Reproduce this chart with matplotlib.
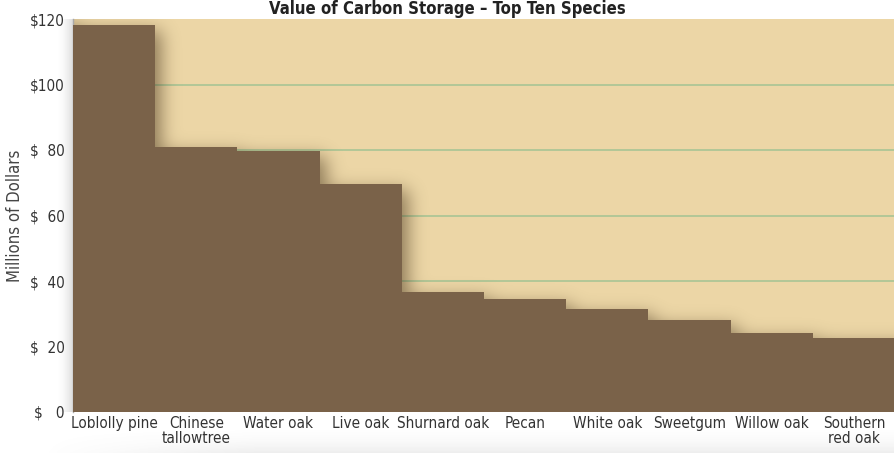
import numpy as np
import matplotlib
matplotlib.use("Agg")
import matplotlib.pyplot as plt

species = ["Loblolly pine", "Chinese\ntallowtree", "Water oak", "Live oak", "Shurnard oak",
           "Pecan", "White oak", "Sweetgum", "Willow oak", "Southern\nred oak"]
values = [118.2, 80.9, 79.7, 69.6, 36.6, 34.5, 31.5, 28.1, 24.1, 22.6]
yticks = [0, 20, 40, 60, 80, 100, 120]
ytick_labels = ["$   0", "$  20", "$  40", "$  60", "$  80", "$100", "$120"]

plt.rcParams['font.family'] = ['DejaVu Sans']
plt.rcParams['font.stretch'] = 'condensed'

BG = "#ecd6a6"
BAR = "#7a6249"
GRID = "#a8c594"


def blur(img, sigma):
    r = int(3 * sigma)
    k = np.exp(-0.5 * (np.arange(-r, r + 1) / sigma) ** 2)
    k /= k.sum()
    pad = np.pad(img, r, mode="edge")
    tmp = np.apply_along_axis(lambda m: np.convolve(m, k, mode="valid"), 1, pad)
    return np.apply_along_axis(lambda m: np.convolve(m, k, mode="valid"), 0, tmp)


fig = plt.figure(figsize=(8.95, 4.53), dpi=100)
ax = fig.add_axes([73 / 895, 1 - 412 / 453, 1 - 73 / 895, 393 / 453])
ax.set_facecolor(BG)

x = np.arange(len(species))

for v in yticks[1:-1]:
    ax.axhline(v, color=GRID, lw=1.2, zorder=1)

# blurred drop shadow of the bar silhouette
nx, ny = 822, 393
xs = (np.arange(nx) + 0.5) / nx * len(species)
ys = (np.arange(ny) + 0.5) / ny * 120
h = np.array(values)[np.minimum(xs.astype(int), len(species) - 1)]
mask = (ys[:, None] < h[None, :]).astype(float)
dx, dy = 6, 6
mask = np.roll(mask, dx, axis=1)
mask[:, :dx] = 1
mask = np.roll(mask, -dy, axis=0)
mask[-dy:, :] = 0
sh = blur(mask, 9)
rgba = np.zeros((ny, nx, 4))
rgba[..., :3] = np.array([0.25, 0.18, 0.09])
rgba[..., 3] = sh * 0.55
ax.imshow(rgba, extent=[0, len(species), 0, 120], origin="lower", aspect="auto",
          zorder=2, interpolation="bilinear")

ax.bar(x, values, width=1.0, align="edge", color=BAR, lw=0, zorder=3)

ax.set_xlim(0, len(species))
ax.set_ylim(0, 120)
ax.set_yticks(yticks)
ax.set_yticklabels(ytick_labels, fontsize=11, color="#333333")
ax.set_xticks(x + 0.5)
ax.set_xticklabels(species, fontsize=11, color="#333333", linespacing=0.95)
ax.tick_params(length=0, pad=3)
ax.tick_params(axis="y", pad=6)
for s in ["top", "right", "bottom"]:
    ax.spines[s].set_visible(False)
ax.spines["left"].set_color("#aaaaaa")
ax.spines["left"].set_linewidth(1)

ax.set_ylabel("Millions of Dollars", fontsize=12, color="#444444", labelpad=4)

# soft shadow left of the plot area
lax = fig.add_axes([56 / 895, 1 - 412 / 453, 17 / 895, 393 / 453], zorder=-1)
g = np.linspace(0, 1, 50) ** 2
lrgba = np.zeros((1, 50, 4))
lrgba[..., :3] = 0.45
lrgba[..., 3] = g * 0.25
lax.imshow(lrgba, aspect="auto", extent=[0, 1, 0, 1])
lax.axis("off")

# soft shadow below the chart
bax = fig.add_axes([40 / 895, 0, 855 / 895, 28 / 453], zorder=-1)
gy = np.linspace(1, 0, 40)[:, None] ** 2
gx = np.clip(np.linspace(0, 4, 200)[None, :], 0, 1)
brgba = np.zeros((40, 200, 4))
brgba[..., :3] = 0.45
brgba[..., 3] = gy * gx * 0.12
bax.imshow(brgba, aspect="auto", extent=[0, 1, 0, 1], origin="lower")
bax.axis("off")

fig.text(0.5, 1.0, "Value of Carbon Storage \u2013 Top Ten Species", ha="center",
         va="top", fontsize=12, fontweight="bold", color="#222222")

fig.savefig("out.png", dpi=100)
